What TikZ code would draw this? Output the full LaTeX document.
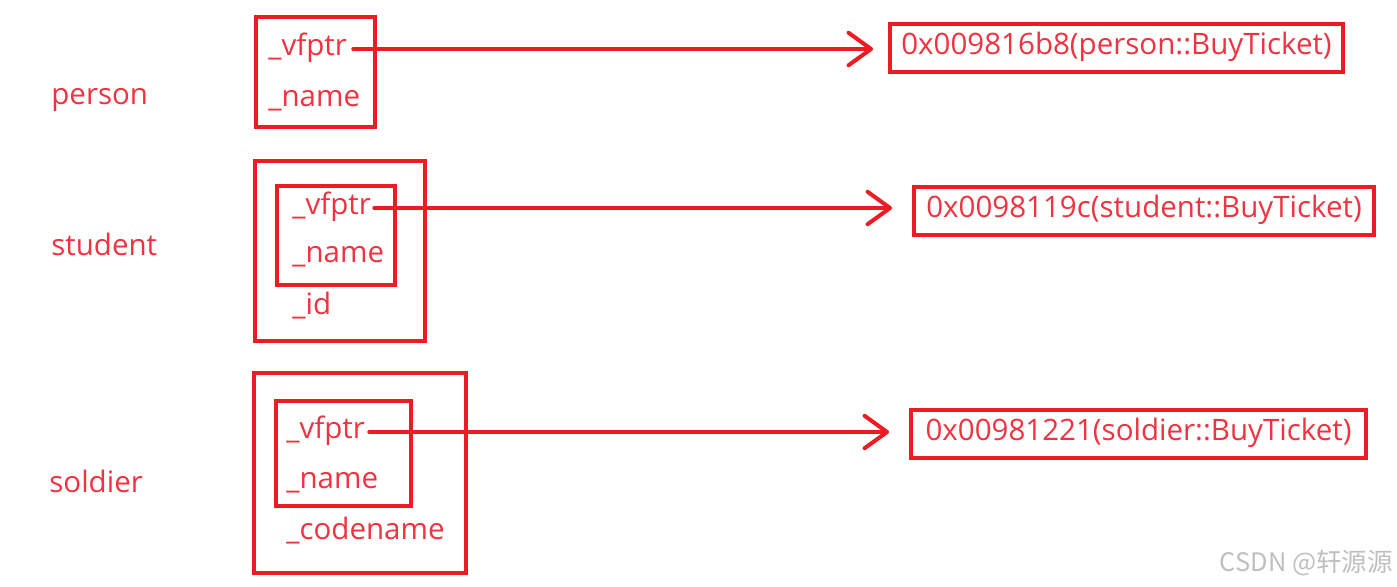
\documentclass[tikz,border=0pt]{standalone}
\usepackage{fontspec}
\setmainfont{Open Sans}
\newfontfamily\cjk{Noto Sans CJK SC}
\usetikzlibrary{arrows.meta}
\definecolor{boxred}{HTML}{ED1C24}
\definecolor{txtred}{HTML}{EF3340}

\begin{document}
\begin{tikzpicture}[x=0.02cm, y=-0.02cm]
		\tikzset{fld/.style={anchor=west, inner sep=0pt, text=txtred, font=\fontsize{16.8}{20}\selectfont, text height=0.85em, text depth=0.15em}};
		\tikzset{addr/.style={draw=boxred, line width=0.08cm, text=txtred, font=\fontsize{16.8}{20}\selectfont, text height=0.88em, text depth=0.12em, inner sep=0pt, minimum height=0.96cm}};
		\tikzset{frame/.style={draw=boxred, line width=0.08cm}};
		\tikzset{ptr/.style={draw=boxred, line width=0.08cm, line cap=round, -{Straight Barb[length=0.45cm, width=0.65cm, round]}, shorten >=0.4cm}};

		\useasboundingbox (0,0) rectangle (1397,586);

		% class names
		\node[fld] (person) at (51, 98) {person};
		\node[fld] (student) at (51, 249) {student};
		\node[fld] (soldier) at (49, 486) {soldier};

		% person
		\draw[frame] (256, 17) rectangle (375, 127);
		\node[fld] (pv) at (268, 49) {\_vfptr};
		\node[fld] (pn) at (268, 100) {\_name};

		% student
		\draw[frame] (255, 161) rectangle (425, 341);
		\draw[frame] (277, 186) rectangle (395, 285);
		\node[fld] (sv) at (292, 208) {\_vfptr};
		\node[fld] (sn) at (292, 256) {\_name};
		\node[fld] (si) at (292, 308) {\_id};

		% soldier
		\draw[frame] (254, 373) rectangle (466, 573);
		\draw[frame] (276, 401) rectangle (411, 506);
		\node[fld] (dv) at (286, 432) {\_vfptr};
		\node[fld] (dn) at (286, 482) {\_name};
		\node[fld] (dc) at (286, 533) {\_codename};

		% virtual tables
		\node[addr, minimum width=9.06cm] (pt) at (1116.5, 48) {0x009816b8(person::BuyTicket)};
		\node[addr, minimum width=9.2cm] (st) at (1144, 211) {0x0098119c(student::BuyTicket)};
		\node[addr, minimum width=9.1cm] (dt) at (1138.5, 434) {0x00981221(soldier::BuyTicket)};

		\draw[ptr, shorten >=0.3cm] ([xshift=0.12cm]pv.east) -- (pv.east -| pt.west);
		\draw[ptr] ([xshift=0.06cm]sv.east) -- (sv.east -| st.west);
		\draw[ptr] ([xshift=0.08cm]dv.east) -- (dv.east -| dt.west);

		\node[anchor=east, inner sep=0pt, text=black!25, font=\cjk\fontsize{14.5}{17}\selectfont] (mark) at (1393, 563) {CSDN @轩源源};

	\end{tikzpicture}
\end{document}
